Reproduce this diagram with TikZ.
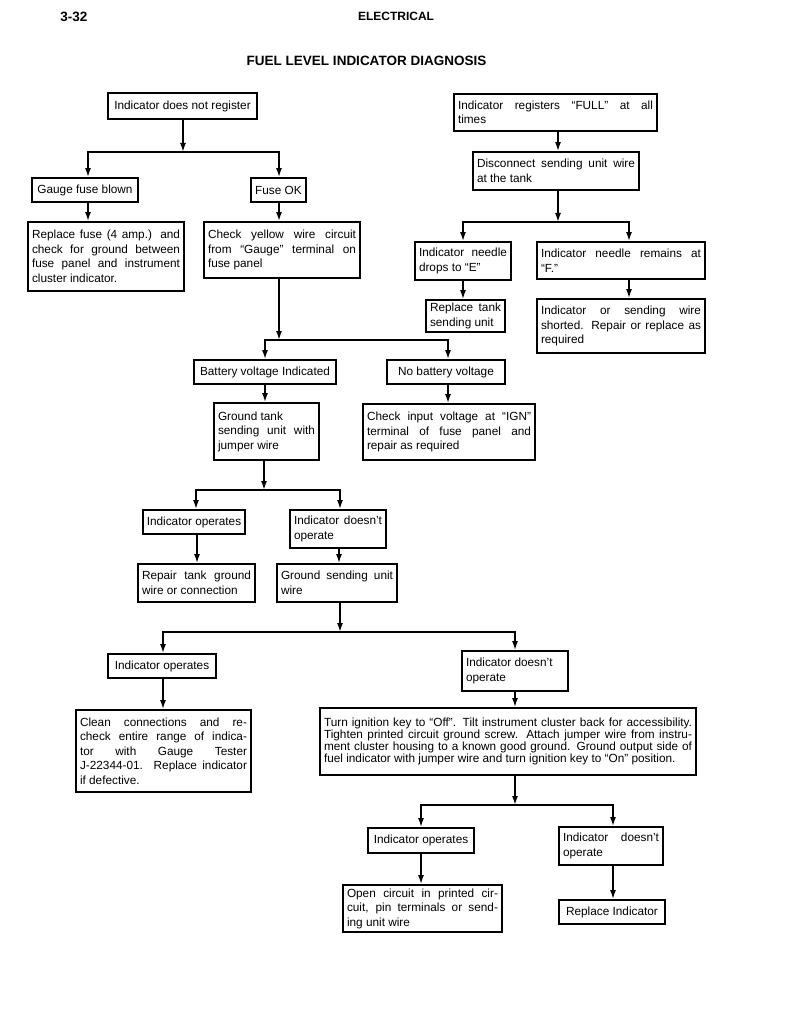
\documentclass[tikz,border=0pt]{standalone}
\usepackage{fontspec}
\setmainfont{Liberation Sans}
\usetikzlibrary{arrows.meta}
\hyphenpenalty=10000
\exhyphenpenalty=10000

\begin{document}
\begin{tikzpicture}[x=1pt,y=-1pt,
  >={Latex[length=9pt,width=6pt]},
  caja/.style={draw, line width=1.8pt, inner xsep=4pt, inner ysep=2pt,
    align=justify, font=\fontsize{11.8}{14.5}\selectfont},
  caja1/.style={draw, line width=1.8pt, inner xsep=1pt, inner ysep=2pt,
    align=center, font=\fontsize{11.8}{14.5}\selectfont},
  linea/.style={line width=1.6pt}]
  % Fondo
  \fill[white] (0,0) rectangle (792,1024);

  % Encabezado
  \node[font=\bfseries\fontsize{13.5}{16}\selectfont] (pag) at (74,17) {3-32};
  \node[font=\bfseries\fontsize{12}{14}\selectfont] (sec) at (396,16) {ELECTRICAL};
  \node[font=\bfseries\fontsize{13.5}{16}\selectfont] (tit) at (366.5,61) {FUEL LEVEL INDICATOR DIAGNOSIS};

  % Rama izquierda
  \node[caja1, minimum width=149pt, minimum height=26pt] (noreg) at (182.5,106) {Indicator does not register};
  \node[caja1, minimum width=106pt, minimum height=24pt] (fuseblown) at (85,190) {Gauge fuse blown};
  \node[caja1, minimum width=55pt, minimum height=24pt] (fuseok) at (278.5,190) {Fuse OK};
  \node[caja, text width=148pt, minimum height=69pt] (replfuse) at (106,256.5)
    {Replace fuse (4 amp.) and\linebreak check for ground between\linebreak fuse panel and instrument\linebreak cluster indicator.};
  \node[caja, text width=148pt, minimum height=56pt] (checkyel) at (282,250)
    {Check yellow wire circuit\linebreak from ``Gauge'' terminal on\linebreak fuse panel};

  % Rama derecha
  \node[caja, text width=195pt, minimum height=37pt] (full) at (555.5,112.5)
    {Indicator registers ``FULL'' at all\linebreak times};
  \node[caja, text width=158pt, minimum height=38pt] (disc) at (556,171)
    {Disconnect sending unit wire\linebreak at the tank};
  \node[caja, text width=88pt, minimum height=38pt] (dropsE) at (463,261)
    {Indicator needle\linebreak drops to ``E''};
  \node[caja, text width=160pt, minimum height=37pt] (remainsF) at (621,260.5)
    {Indicator needle remains at\linebreak ``F.''};
  \node[caja, text width=71pt, minimum height=32pt] (repltank) at (465.5,316)
    {Replace tank\linebreak sending unit};
  \node[caja, text width=160pt, minimum height=54pt] (shorted) at (621,326)
    {Indicator or sending wire\linebreak shorted. Repair or replace as\linebreak required};

  % Voltaje
  \node[caja1, minimum width=142pt, minimum height=24pt] (batt) at (265,372) {Battery voltage Indicated};
  \node[caja1, minimum width=118pt, minimum height=24pt] (nobatt) at (446,372) {No battery voltage};
  \node[caja, text width=97pt, minimum height=57pt] (gndtank) at (266.5,431.5)
    {Ground tank\\ sending unit with\linebreak jumper wire};
  \node[caja, text width=164pt, minimum height=56pt] (checkign) at (449,432)
    {Check input voltage at ``IGN''\linebreak terminal of fuse panel and\linebreak repair as required};

  % Masa del tanque
  \node[caja1, minimum width=102pt, minimum height=24pt] (ops1) at (194,522) {Indicator operates};
  \node[caja, text width=88pt, minimum height=38pt] (nops1) at (338,529)
    {Indicator doesn't\linebreak operate};
  \node[caja, text width=109pt, minimum height=38pt] (repgnd) at (196.5,583)
    {Repair tank ground\linebreak wire or connection};
  \node[caja, text width=112pt, minimum height=38pt] (gndwire) at (337,583)
    {Ground sending unit\linebreak wire};

  % Masa del cable
  \node[caja1, minimum width=108pt, minimum height=24pt] (ops2) at (162,666) {Indicator operates};
  \node[caja, text width=98pt, minimum height=40pt] (nops2) at (515,671)
    {Indicator doesn't\\ operate};
  \node[caja, text width=167pt, minimum height=82pt] (clean) at (163.5,751)
    {Clean connections and re-\linebreak check entire range of indica-\linebreak tor with Gauge Tester\linebreak J-22344-01. Replace indicator\linebreak if defective.};
  \node[caja, text width=368pt, minimum height=67pt, font=\fontsize{11.8}{12.2}\selectfont] (turnkey) at (508,741.5)
    {\parfillskip=0pt Turn ignition key to ``Off''. Tilt instrument cluster back for accessibility.\linebreak Tighten printed circuit ground screw. Attach jumper wire from instru-\linebreak ment cluster housing to a known good ground. Ground output side of\linebreak fuel indicator with jumper wire and turn ignition key to ``On'' position.};

  % Circuito impreso
  \node[caja1, minimum width=106pt, minimum height=25pt] (ops3) at (421,840.5) {Indicator operates};
  \node[caja, text width=96pt, minimum height=38pt] (nops3) at (611,846)
    {Indicator doesn't\linebreak operate};
  \node[caja, text width=151pt, minimum height=47pt] (opencirc) at (422.5,908.5)
    {Open circuit in printed cir-\linebreak cuit, pin terminals or send-\linebreak ing unit wire};
  \node[caja1, minimum width=106pt, minimum height=24pt] (replind) at (612,912) {Replace Indicator};

  % Bifurcaciones: padre / barra / izq / centro / der / hijos
  \foreach \p/\yb/\xl/\xp/\xr/\cl/\cr in {
      noreg/152/88/183/279/fuseblown/fuseok,
      disc/222/463/558/629/dropsE/remainsF,
      checkyel/340/265/279/448/batt/nobatt,
      gndtank/490/196/264/340/ops1/nops1,
      gndwire/632/163/340/515/ops2/nops2,
      turnkey/805/421/515/613/ops3/nops3}{
    \coordinate (jl) at (\xl,\yb);
    \coordinate (jp) at (\xp,\yb);
    \coordinate (jr) at (\xr,\yb);
    \draw[linea,->] (\p.south -| jp) -- (jp);
    \draw[linea,<->] (\cl.north -| jl) -- (jl) -- (jr) -- (\cr.north -| jr);
  }

  % Flechas simples
  \foreach \x/\a/\b in {88/fuseblown/replfuse, 279/fuseok/checkyel,
      558/full/disc, 463/dropsE/repltank, 629/remainsF/shorted,
      265/batt/gndtank, 448/nobatt/checkign, 197/ops1/repgnd,
      339/nops1/gndwire, 163/ops2/clean, 515/nops2/turnkey,
      421/ops3/opencirc, 613/nops3/replind}{
    \coordinate (k) at (\x,0);
    \draw[linea,->] (\a.south -| k) -- (\b.north -| k);
  }
\end{tikzpicture}
\end{document}
